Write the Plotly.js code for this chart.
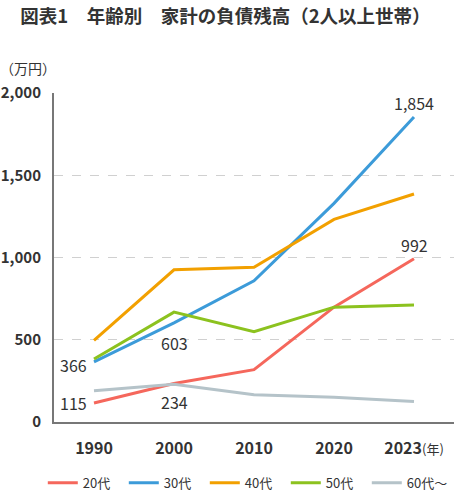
<!DOCTYPE html>
<html>
<head>
<meta charset="utf-8">
<script src="https://cdn.plot.ly/plotly-3.0.1.min.js"></script>
<style>
html,body{margin:0;padding:0;background:#fff;}
#chart{width:460px;height:496px;}
</style>
</head>
<body>
<div id="chart"></div>
<script>
const years = ['1990', '2000', '2010', '2020', '2023'];
const yearLabels = ['1990', '2000', '2010', '2020', '2023<span style="font-size:13px;font-weight:normal">(年)</span>'];
const seriesNames = ['20代', '30代', '40代', '50代', '60代～'];
const age20 = [115, 234, 318, 698, 992];
const age30 = [366, 603, 858, 1329, 1854];
const age40 = [496, 925, 940, 1232, 1386];
const age50 = [383, 668, 549, 698, 712];
const age60 = [190, 230, 166, 150, 124];
const colors = ['#F5675C', '#3C9BD9', '#F2A000', '#8CC21F', '#B5C3C9'];
const yTicks = [0, 500, 1000, 1500, 2000];
const yTickText = ['0', '500', '1,000', '1,500', '2,000'];
// labelled values: [series index, year index, text, xshift, yshift]
const labels = [
  [0, 0, '115', -21, 0],
  [1, 0, '366', -21, -3],
  [0, 1, '234', 0, -18],
  [1, 1, '603', 0, -20],
  [1, 4, '1,854', 0, 14],
  [0, 4, '992', 0, 14]
];

const allSeries = [age20, age30, age40, age50, age60];
const FONT = '"Noto Sans CJK JP", "Noto Sans", sans-serif';

const traces = allSeries.map((vals, i) => ({
  type: 'scatter',
  mode: 'lines',
  x: years,
  y: vals,
  name: seriesNames[i],
  line: {color: colors[i], width: 3},
  hoverinfo: 'skip'
}));

const annotations = labels.map(l => ({
  x: l[1],
  y: allSeries[l[0]][l[1]],
  xref: 'x', yref: 'y',
  text: l[2],
  showarrow: false,
  xshift: l[3],
  yshift: l[4],
  font: {family: FONT, size: 16, color: '#333'}
}));
annotations.push({
  xref: 'paper', yref: 'paper', x: -0.14, y: 1.075,
  xanchor: 'left', yanchor: 'middle',
  text: '（万円）', showarrow: false,
  font: {family: FONT, size: 14, color: '#333'}
});

const layout = {
  width: 460, height: 496,
  margin: {l: 54, r: 6, t: 93, b: 74, autoexpand: false},
  paper_bgcolor: '#fff', plot_bgcolor: '#fff',
  title: {
    text: '<b>図表1　年齢別　家計の負債残高（2人以上世帯）</b>',
    font: {family: FONT, size: 18.5, color: '#333'},
    x: 0.49, xanchor: 'center', y: 0.967, yanchor: 'middle'
  },
  xaxis: {
    type: 'category',
    range: [-0.5, 4.5],
    tickvals: years, ticktext: yearLabels,
    showgrid: false,
    showline: true, linecolor: '#777', linewidth: 2,
    ticks: '',
    tickfont: {family: FONT, size: 16, color: '#333', weight: 'bold'},
    ticklabelstandoff: 11,
    fixedrange: true
  },
  yaxis: {
    range: [0, 2000],
    tickvals: yTicks, ticktext: yTickText,
    showgrid: true, gridcolor: '#d0d0d0', griddash: 'dash', gridwidth: 1,
    showline: true, linecolor: '#777', linewidth: 2,
    zeroline: false,
    ticks: '',
    ticklabelstandoff: 8,
    tickfont: {family: FONT, size: 15, color: '#333', weight: 'bold'},
    fixedrange: true
  },
  showlegend: true,
  legend: {
    orientation: 'h',
    x: -0.028, xanchor: 'left', xref: 'paper',
    y: -0.185, yanchor: 'middle', yref: 'paper',
    font: {family: FONT, size: 13, color: '#333'},
    entrywidth: 36, entrywidthmode: 'pixels',
    itemwidth: 30,
    tracegroupgap: 0
  },
  annotations: annotations
};

Plotly.newPlot('chart', traces, layout, {staticPlot: true, displayModeBar: false});
</script>
</body>
</html>
